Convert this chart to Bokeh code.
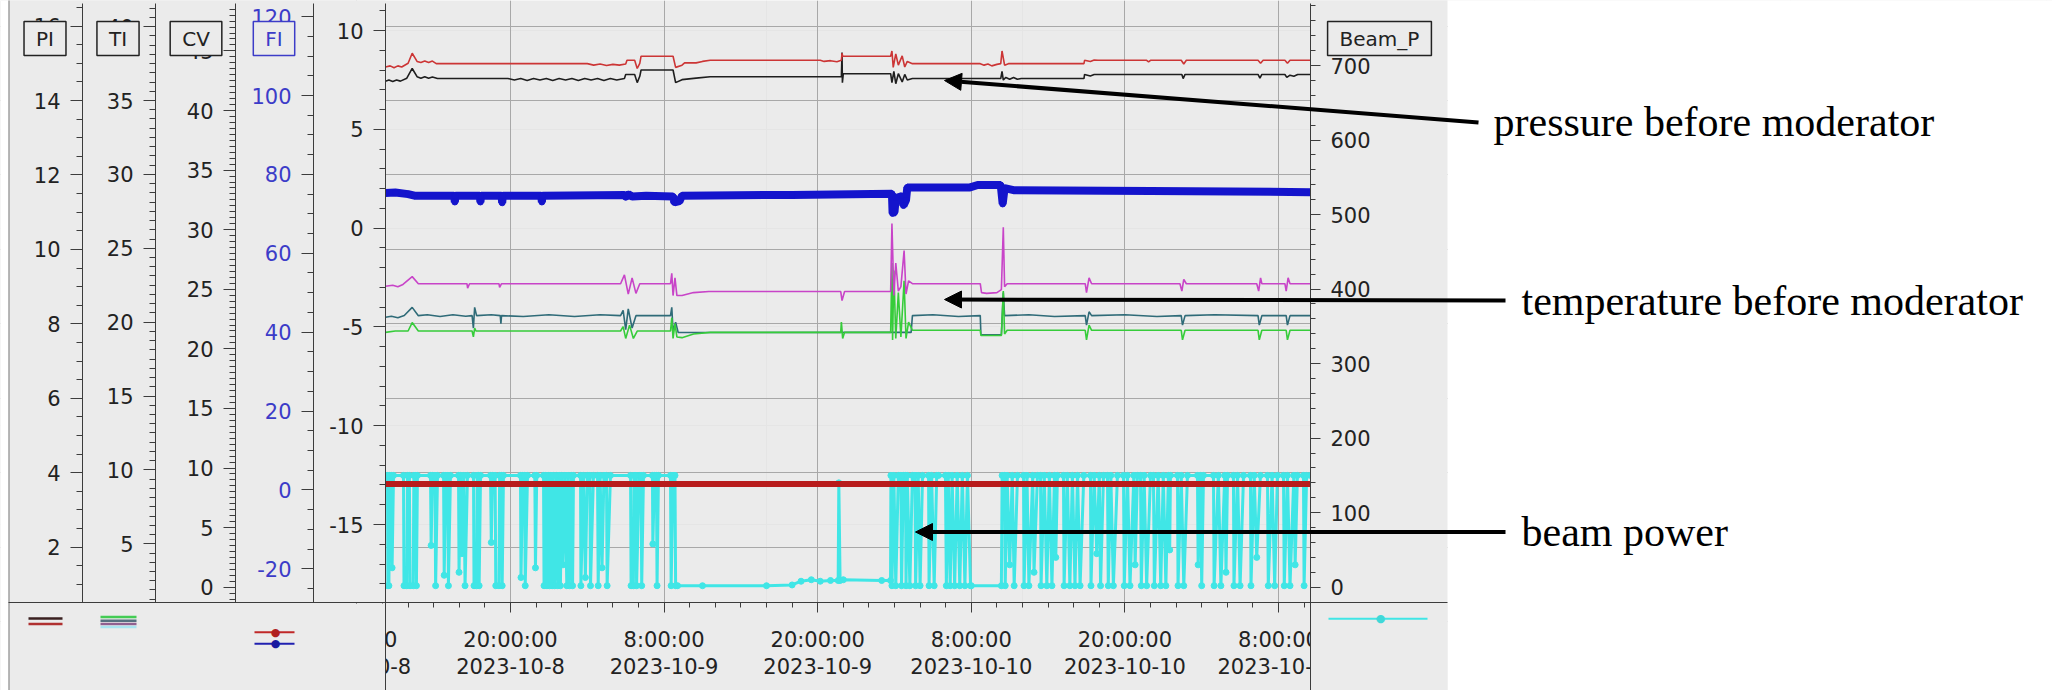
from bokeh.plotting import figure
from bokeh.models import (Range1d, LinearAxis, SingleIntervalTicker, FixedTicker, Grid,
                          Label, Arrow, NormalHead, BoxAnnotation, CustomJSTickFormatter)
from bokeh.embed import file_html
from bokeh.resources import INLINE

# ---------------- data (time in hours since 2023-10-08 00:00) ----------------
pi_red = [(10.23, 14.90), (10.6, 14.93), (10.9, 14.88), (11.2, 14.93), (11.5, 14.90), (12.0, 15.00),
          (12.32, 15.27), (12.7, 15.05), (13.0, 15.02), (13.3, 15.06), (13.6, 15.02), (13.9, 15.06),
          (14.2, 14.99), (26.0, 14.99), (26.5, 14.95), (27.0, 14.98), (27.5, 14.94), (28.0, 14.97),
          (28.5, 14.95), (29.0, 14.98), (29.1, 15.08), (29.7, 15.08), (29.9, 14.86), (30.1, 15.00),
          (30.2, 15.19), (32.7, 15.19), (32.9, 14.89), (33.4, 14.95), (33.6, 15.01), (34.5, 15.01),
          (35.0, 15.05), (35.6, 15.08), (44.2, 15.08), (44.5, 15.05), (45.0, 15.07), (45.5, 15.04),
          (45.85, 15.08), (45.9, 15.27), (45.95, 15.19), (49.7, 15.19), (49.8, 15.33), (49.9, 14.89),
          (50.1, 15.25), (50.3, 14.95), (50.6, 15.20), (50.8, 14.90), (51.0, 15.05), (51.4, 14.99),
          (56.7, 14.99), (57.0, 14.95), (57.3, 14.98), (57.6, 14.93), (58.0, 14.97), (58.3, 14.99),
          (58.4, 15.33), (58.6, 14.95), (58.9, 14.99), (64.8, 14.99), (64.85, 15.08), (65.3, 15.05),
          (65.6, 15.09), (65.9, 15.08), (69.7, 15.08), (69.85, 15.04), (70.0, 15.08), (72.4, 15.08),
          (72.6, 14.98), (72.8, 15.08), (78.4, 15.08), (78.6, 15.00), (78.8, 15.08), (80.5, 15.08),
          (80.7, 15.00), (80.9, 15.08), (82.5, 15.08)]

pi_black = [(10.23, 14.52), (10.5, 14.55), (10.8, 14.51), (11.1, 14.55), (11.4, 14.52), (11.9, 14.60),
            (12.32, 14.86), (12.7, 14.64), (13.0, 14.60), (13.3, 14.64), (13.6, 14.60), (13.9, 14.63),
            (14.3, 14.59), (19.8, 14.59), (20.3, 14.55), (20.8, 14.59), (21.3, 14.54), (21.8, 14.59),
            (22.3, 14.55), (22.8, 14.59), (23.3, 14.54), (23.8, 14.59), (24.3, 14.55), (24.8, 14.59),
            (25.3, 14.54), (25.8, 14.59), (26.3, 14.55), (26.8, 14.59), (27.3, 14.54), (27.8, 14.59),
            (28.3, 14.55), (28.9, 14.59), (29.0, 14.70), (29.7, 14.70), (29.9, 14.48), (30.1, 14.65),
            (30.2, 14.82), (32.7, 14.82), (32.9, 14.48), (33.4, 14.56), (34.5, 14.60), (35.6, 14.64),
            (45.85, 14.64), (45.9, 15.29), (45.93, 14.48), (46.0, 14.72), (49.7, 14.72), (49.8, 14.48),
            (49.95, 14.78), (50.1, 14.45), (50.3, 14.72), (50.6, 14.50), (50.8, 14.70), (51.0, 14.55),
            (51.4, 14.59), (58.3, 14.59), (58.4, 14.78), (58.5, 14.55), (58.7, 14.62), (59.0, 14.57),
            (59.3, 14.62), (59.6, 14.57), (59.9, 14.59), (64.8, 14.59), (64.85, 14.70), (65.3, 14.66),
            (65.6, 14.70), (72.45, 14.70), (72.55, 14.59), (72.7, 14.70), (78.4, 14.70), (78.55, 14.60),
            (78.7, 14.70), (80.5, 14.70), (80.65, 14.62), (80.9, 14.68), (81.2, 14.65), (81.5, 14.70),
            (82.5, 14.70)]

fi_blue = [(10.23, 75.3), (11.0, 75.4), (12.0, 75.0), (12.5, 74.6), (15.6, 74.6), (15.65, 73.0),
           (15.7, 74.6), (17.6, 74.6), (17.65, 73.0), (17.7, 74.6), (19.3, 74.6), (19.35, 72.8),
           (19.4, 74.6), (22.4, 74.6), (22.45, 73.0), (22.5, 74.6), (28.9, 74.8), (29.0, 74.2),
           (29.2, 75.0), (29.5, 74.4), (30.6, 74.6), (32.7, 74.4), (32.8, 72.9), (33.2, 73.2),
           (33.4, 74.6), (42.0, 74.8), (49.8, 75.1), (49.85, 70.1), (50.0, 70.5), (50.1, 74.0),
           (50.6, 74.5), (50.7, 72.1), (50.9, 73.5), (51.0, 76.7), (55.9, 76.7), (56.5, 77.3),
           (58.3, 77.3), (58.45, 72.5), (58.6, 76.5), (59.3, 76.0), (70.0, 75.8), (82.5, 75.5)]

fi_red = [(10.23, 1.5), (41.4, 1.5), (82.5, 1.5)]

ti_magenta = [(10.23, 22.43), (10.8, 22.50), (11.2, 22.40), (11.6, 22.55), (12.32, 23.08), (12.8, 22.60),
              (16.6, 22.60), (16.65, 22.30), (16.8, 22.60), (19.1, 22.60), (19.15, 22.35), (19.3, 22.60),
              (28.6, 22.60), (28.9, 23.20), (29.2, 21.90), (29.5, 23.00), (29.8, 21.95), (30.1, 22.60),
              (32.5, 22.60), (32.6, 23.30), (32.7, 21.80), (32.85, 23.00), (33.0, 21.80), (33.4, 21.80),
              (34.3, 22.00), (35.5, 22.07), (45.8, 22.07), (45.9, 21.46), (46.1, 22.07), (49.7, 22.07),
              (49.8, 26.67), (49.95, 21.80), (50.1, 24.00), (50.3, 22.10), (50.5, 22.40), (50.75, 24.84),
              (50.9, 21.90), (51.1, 22.80), (51.4, 22.60), (56.7, 22.60), (56.8, 22.00), (57.2, 21.95),
              (58.0, 22.00), (58.35, 22.20), (58.5, 26.42), (58.6, 22.40), (58.8, 22.60), (64.9, 22.60),
              (65.0, 22.00), (65.2, 23.00), (65.4, 22.60), (72.3, 22.60), (72.45, 22.10), (72.6, 22.90),
              (72.8, 22.60), (78.3, 22.60), (78.45, 22.10), (78.6, 23.00), (78.7, 22.60), (80.5, 22.60),
              (80.6, 22.10), (80.75, 23.00), (80.9, 22.60), (82.5, 22.60)]

ti_teal = [(10.23, 20.33), (10.7, 20.40), (11.2, 20.30), (11.7, 20.45), (12.32, 21.00), (12.8, 20.44),
           (13.5, 20.50), (14.5, 20.38), (15.5, 20.50), (16.5, 20.40), (17.0, 20.44), (17.1, 19.60),
           (17.2, 21.00), (17.35, 20.44), (18.5, 20.50), (19.2, 20.44), (19.25, 19.90), (19.3, 20.44),
           (21.0, 20.38), (23.0, 20.50), (25.0, 20.38), (27.0, 20.50), (28.6, 20.44), (28.8, 20.80),
           (29.0, 19.50), (29.2, 20.90), (29.5, 19.60), (29.8, 20.44), (32.5, 20.44), (32.6, 21.00),
           (32.7, 19.40), (32.9, 20.00), (33.1, 19.30), (49.7, 19.31), (51.3, 19.31), (51.4, 20.44),
           (53.0, 20.50), (55.0, 20.38), (56.7, 20.44), (56.75, 19.15), (58.35, 19.15), (58.5, 22.00),
           (58.6, 20.44), (60.5, 20.50), (62.5, 20.38), (64.9, 20.44), (65.0, 19.80), (65.2, 20.70),
           (65.4, 20.44), (68.0, 20.50), (70.5, 20.38), (72.4, 20.44), (72.5, 19.80), (72.7, 20.44),
           (75.0, 20.50), (78.4, 20.44), (78.5, 19.80), (78.7, 20.44), (80.6, 20.44), (80.7, 19.80),
           (80.9, 20.44), (82.5, 20.44)]

ti_green = [(10.23, 19.31), (11.0, 19.40), (12.0, 19.40), (12.32, 19.97), (12.8, 19.40), (17.0, 19.40),
            (17.1, 19.00), (17.2, 19.60), (17.3, 19.40), (28.6, 19.40), (28.8, 19.70), (29.0, 18.90),
            (29.3, 19.80), (29.6, 18.90), (29.9, 19.40), (32.5, 19.40), (32.6, 20.30), (32.7, 18.90),
            (32.85, 19.90), (33.0, 19.00), (33.4, 18.95), (34.3, 19.20), (35.6, 19.31), (45.8, 19.31),
            (45.85, 20.00), (45.95, 18.90), (46.1, 19.31), (49.7, 19.31), (49.8, 24.00), (49.85, 18.80),
            (49.95, 23.50), (50.1, 18.90), (50.3, 22.00), (50.5, 19.00), (50.75, 22.80), (50.9, 18.90),
            (51.1, 20.00), (51.4, 19.45), (56.7, 19.45), (56.75, 19.10), (58.35, 19.10), (58.5, 22.10),
            (58.6, 19.20), (58.8, 19.45), (64.9, 19.45), (65.0, 18.80), (65.2, 19.80), (65.4, 19.45),
            (72.4, 19.45), (72.5, 18.80), (72.7, 19.45), (78.4, 19.45), (78.5, 18.80), (78.7, 19.45),
            (80.6, 19.45), (80.7, 18.80), (80.9, 19.45), (82.5, 19.45)]

beam_power = [
    (10.23, 150), (10.39, 150), (10.42, 2), (10.5, 2), (10.55, 150), (10.7, 150), (10.75, 26), (10.86, 150),
    (11.64, 150), (11.68, 2), (11.9, 2), (11.95, 150), (12.1, 150), (12.15, 2), (12.4, 2), (12.45, 150),
    (12.6, 150), (12.65, 2), (12.73, 150), (13.75, 150), (13.8, 56), (13.9, 150), (14.1, 150), (14.15, 2),
    (14.3, 150), (14.77, 150), (14.82, 16), (14.95, 150), (15.1, 150), (15.15, 2), (15.31, 150),
    (15.94, 150), (15.98, 20), (16.1, 150), (16.2, 45), (16.35, 150), (16.45, 2), (16.64, 150),
    (17.11, 150), (17.15, 2), (17.35, 2), (17.4, 150), (17.5, 150), (17.55, 2), (17.66, 150),
    (18.44, 150), (18.5, 60), (18.6, 150), (18.8, 150), (18.85, 2), (19.1, 2), (19.15, 150), (19.3, 150),
    (19.35, 2), (19.45, 150), (20.78, 150), (20.82, 13), (20.95, 150), (21.1, 150), (21.15, 2),
    (21.33, 150), (21.9, 150), (21.95, 26), (22.05, 150), (22.58, 150), (22.62, 2), (22.75, 150),
    (22.85, 2), (22.95, 150), (23.05, 2), (23.15, 150), (23.25, 2), (23.35, 150), (23.45, 2), (23.6, 150),
    (23.7, 2), (23.8, 150), (23.9, 2), (24.0, 150), (24.1, 30), (24.25, 150), (24.4, 2), (24.5, 150),
    (24.6, 2), (24.75, 150), (24.85, 2), (24.92, 150), (25.47, 150), (25.5, 2), (25.7, 150), (25.85, 13),
    (26.0, 150), (26.2, 150), (26.25, 2), (26.48, 150), (26.8, 150), (26.85, 2), (27.0, 150), (27.15, 26),
    (27.3, 150), (27.5, 150), (27.55, 2), (27.81, 150), (29.38, 150), (29.42, 2), (29.6, 2), (29.65, 150),
    (29.8, 150), (29.85, 2), (30.05, 150), (30.2, 150), (30.25, 2), (30.39, 150), (31.09, 150),
    (31.12, 58), (31.25, 150), (31.4, 150), (31.45, 2), (31.56, 150), (32.5, 150), (32.55, 2),
    (32.7, 150), (32.85, 150), (32.9, 2), (33.05, 2), (35.0, 2), (40.0, 2), (42.0, 3), (42.7, 8),
    (43.5, 10), (44.2, 8), (45.0, 9), (45.6, 9), (45.65, 140), (45.75, 9), (46.0, 10), (49.0, 9),
    (49.69, 9), (49.72, 150), (49.8, 2), (49.95, 150), (50.1, 2), (50.3, 150), (50.5, 150), (50.55, 2),
    (50.7, 150), (50.86, 150), (50.9, 2), (51.0, 150), (51.2, 2), (51.4, 150), (51.6, 150), (51.65, 2),
    (51.85, 150), (52.0, 2), (52.19, 150), (52.66, 150), (52.7, 2), (52.9, 150), (53.1, 2), (53.3, 150),
    (53.44, 150), (53.98, 150), (54.05, 2), (54.2, 150), (54.35, 2), (54.5, 150), (54.7, 2), (54.9, 150),
    (55.1, 2), (55.3, 150), (55.5, 2), (55.7, 150), (55.94, 2), (56.0, 2), (58.35, 2), (58.41, 150),
    (58.6, 150), (58.65, 2), (58.8, 150), (59.0, 30), (59.2, 150), (59.35, 2), (59.61, 150), (60.08, 150),
    (60.12, 2), (60.35, 150), (60.5, 2), (60.8, 150), (60.9, 20), (61.17, 150), (61.41, 150), (61.45, 2),
    (61.7, 150), (61.9, 2), (62.1, 150), (62.3, 2), (62.5, 150), (62.6, 40), (62.73, 150), (63.2, 150),
    (63.25, 2), (63.5, 150), (63.7, 2), (63.9, 150), (64.1, 2), (64.3, 150), (64.5, 2), (64.79, 150),
    (65.31, 150), (65.35, 2), (65.6, 150), (65.8, 45), (66.0, 150), (66.1, 2), (66.33, 150), (66.64, 150),
    (66.7, 2), (66.9, 150), (67.1, 2), (67.42, 150), (67.89, 150), (67.95, 2), (68.2, 150), (68.4, 2),
    (68.7, 150), (68.8, 30), (68.98, 150), (69.22, 150), (69.28, 2), (69.5, 150), (69.7, 2), (70.0, 150),
    (70.23, 150), (70.3, 2), (70.6, 150), (70.8, 2), (71.0, 150), (71.2, 2), (71.4, 150), (71.5, 50),
    (71.56, 150), (72.11, 150), (72.15, 2), (72.4, 150), (72.6, 2), (72.89, 150), (73.67, 150),
    (73.72, 30), (73.9, 150), (74.0, 2), (74.14, 150), (74.92, 150), (74.97, 2), (75.3, 150), (75.5, 2),
    (75.8, 150), (75.9, 20), (76.02, 150), (76.48, 150), (76.52, 2), (76.8, 150), (77.0, 2), (77.27, 150),
    (77.81, 150), (77.85, 2), (78.1, 150), (78.3, 40), (78.59, 150), (79.14, 150), (79.2, 2), (79.5, 150),
    (79.7, 2), (79.92, 150), (80.39, 150), (80.45, 2), (80.7, 150), (80.9, 2), (81.2, 150), (81.3, 30),
    (81.48, 150), (81.95, 150), (82.0, 2), (82.2, 150), (82.5, 150)]

x_ticks = [8, 20, 32, 44, 56, 68, 80]
x_tick_labels = ["8:00:00\n2023-10-8", "20:00:00\n2023-10-8", "8:00:00\n2023-10-9", "20:00:00\n2023-10-9",
                 "8:00:00\n2023-10-10", "20:00:00\n2023-10-10", "8:00:00\n2023-10-11"]
x_minor_ticks = list(range(10, 84, 2))

# ---------------- layout constants (pixels of the trend window) ----------------
W, H = 2052, 690
BG = "#ebebeb"
FONT = "DejaVu Sans"
FS = "21px"
AX_COL = "#3c3c3c"
TXT = "#222222"
BLUE_TXT = "#3c3cc8"
PLOT_L, PLOT_R, PLOT_B, TOP = 385, 1310, 602, 3
PANEL_R = 1447


def lin(p1, v1, p2, v2):
    b = (v2 - v1) / (p2 - p1)
    return lambda px: v1 + (px - p1) * b


# value scales of each axis, anchored on two tick positions
f_main = lin(30, 10, 524, -15)
f_pi = lin(100, 14, 546.7, 2)
f_ti = lin(100, 35, 543.3, 5)
f_cv = lin(110, 40, 586.7, 0)
f_fi = lin(95, 100, 568.3, -20)
f_beam = lin(65, 700, 586.7, 0)
f_hour = lin(510, 20, 1278, 80)


def vr(f):
    return Range1d(f(H), f(0))


p = figure(width=W, height=H, x_range=Range1d(f_hour(0), f_hour(W)), y_range=vr(f_main),
           x_axis_location=None, y_axis_location=None, toolbar_location=None, output_backend="svg",
           min_border=0, title=None)
p.background_fill_color = BG
p.border_fill_color = BG
p.outline_line_color = None
p.extra_y_ranges = {"pi": vr(f_pi), "ti": vr(f_ti), "cv": vr(f_cv), "fi": vr(f_fi),
                    "beam": vr(f_beam), "py": Range1d(H, 0)}
p.extra_x_ranges = {"px": Range1d(0, W)}

plain_numbers = CustomJSTickFormatter(code="return String(Math.round(tick * 100) / 100)")


def style_axis(ax, label_color=TXT):
    ax.axis_line_color = AX_COL
    ax.major_tick_line_color = AX_COL
    ax.minor_tick_line_color = AX_COL
    ax.major_tick_out = 12
    ax.major_tick_in = 0
    ax.minor_tick_out = 6
    ax.minor_tick_in = 0
    ax.major_label_standoff = 10
    ax.major_label_text_font = FONT
    ax.major_label_text_font_size = FS
    ax.major_label_text_color = label_color


def yaxis(name, f, xloc, interval, nminor, side="left", color=TXT):
    ax = LinearAxis(y_range_name=name, x_range_name="px", fixed_location=xloc,
                    bounds=(f(PLOT_B), f(TOP)), formatter=plain_numbers,
                    ticker=SingleIntervalTicker(interval=interval, num_minor_ticks=nminor))
    style_axis(ax, color)
    p.add_layout(ax, side)
    return ax


def seg(x0, y0, x1, y1, color=AX_COL, width=1.0):
    p.add_layout(Arrow(end=None, x_start=x0, y_start=y0, x_end=x1, y_end=y1,
                       line_color=color, line_width=width, x_range_name="px", y_range_name="py"))


def box(l, r, t, b, color, level):
    p.add_layout(BoxAnnotation(left=l, right=r, top=t, bottom=b, x_range_name="px", y_range_name="py",
                               fill_color=color, fill_alpha=1.0, line_color=None, level=level))


def box_label(x, y, text, color):
    p.add_layout(Label(x=x, y=y, text=text, text_align="center", text_baseline="middle",
                       text_font=FONT, text_font_size="20px", text_color=color,
                       background_fill_color=BG, border_line_color=color, border_line_width=1.5,
                       padding=(12, 5), x_range_name="px", y_range_name="py"))


def dot(x, y, color):
    p.add_layout(Label(x=x, y=y, text="\u25CF", text_align="center", text_baseline="middle",
                       text_font=FONT, text_font_size="11px", text_color=color,
                       x_range_name="px", y_range_name="py"))


# grid of the trend window
x_ticker = FixedTicker(ticks=x_ticks, minor_ticks=x_minor_ticks)
grid_col = "#a8a8a8"
p.add_layout(Grid(dimension=0, ticker=x_ticker, grid_line_color=grid_col, grid_line_width=1))
p.add_layout(Grid(dimension=1, ticker=SingleIntervalTicker(interval=2), y_range_name="pi",
                  grid_line_color=grid_col, grid_line_width=1))

# panels around the trend window (hide the grid outside it)
box(0, PLOT_L, -5, H + 5, BG, "glyph")
box(PLOT_L - 1, PLOT_R + 1, PLOT_B, H + 5, BG, "glyph")
box(PLOT_R, PANEL_R, -5, H + 5, BG, "glyph")
box(PANEL_R, W + 5, -5, H + 5, "white", "glyph")
box(0, 8, -5, H + 5, "white", "glyph")


# series
def xy(pairs):
    return [a for a, _ in pairs], [b for _, b in pairs]


bt, bv = xy(beam_power)
p.line(bt, bv, y_range_name="beam", line_color="#40e6e6", line_width=3)
p.scatter(bt, bv, y_range_name="beam", size=6, color="#40e6e6")

t, v = xy(fi_red)
p.line(t, v, y_range_name="fi", line_color="#b81c1c", line_width=6)

for data, col in ((ti_teal, "#2f6b78"), (ti_green, "#36cc3a"), (ti_magenta, "#c844c8")):
    t, v = xy(data)
    p.line(t, v, y_range_name="ti", line_color=col, line_width=1.6)

t, v = xy(fi_blue)
p.line(t, v, y_range_name="fi", line_color="#1414cc", line_width=8)
p.scatter(t, v, y_range_name="fi", size=6, color="#1414cc")

for data, col in ((pi_black, "#1e1e1e"), (pi_red, "#cc3535")):
    t, v = xy(data)
    p.line(t, v, y_range_name="pi", line_color=col, line_width=1.6)

# axes
yaxis("pi", f_pi, 82, 2, 4)
yaxis("ti", f_ti, 155, 5, 8)
yaxis("cv", f_cv, 235, 5, 10)
yaxis("fi", f_fi, 313, 20, 4, color=BLUE_TXT)
yaxis("default", f_main, PLOT_L, 5, 5)
b_ax = yaxis("beam", f_beam, PLOT_R, 100, 5, side="right")
b_ax.major_tick_out = 10
b_ax.minor_tick_out = 5

x_ax = LinearAxis(y_range_name="py", fixed_location=PLOT_B, bounds=(8, f_hour(PLOT_R)), ticker=x_ticker,
                  major_label_overrides=dict(zip(x_ticks, x_tick_labels)))
style_axis(x_ax)
x_ax.major_tick_out = 10
x_ax.minor_tick_out = 5
x_ax.major_label_standoff = 15
x_ax.major_label_text_line_height = 1.15
p.add_layout(x_ax, "below")

# the x labels are cut at the edges of the trend window
box(300, PLOT_L - 0.5, PLOT_B + 1, H + 5, BG, "annotation")
box(PLOT_R + 0.5, PANEL_R, PLOT_B + 1, H + 5, BG, "annotation")

# frame lines
seg(8.5, -5, 8.5, H + 5, color="#7a7a7a")
seg(8, PLOT_B, PANEL_R, PLOT_B)
seg(PLOT_L, PLOT_B, PLOT_L, H + 5)
seg(PLOT_R, PLOT_B, PLOT_R, H + 5)

# tag boxes
box_label(44.5, 38, "PI", TXT)
box_label(117.5, 38, "TI", TXT)
box_label(195.5, 38, "CV", TXT)
box_label(273.5, 38, "FI", BLUE_TXT)
box_label(1379, 38, "Beam_P", TXT)

# legend samples under the axes
seg(28, 618, 62, 618, color="#3a2020", width=2.5)
seg(28, 623.5, 62, 623.5, color="#b03030", width=2.5)
seg(100, 616.5, 136, 616.5, color="#44cc55", width=2.5)
seg(100, 620.2, 136, 620.2, color="#557080", width=2.5)
seg(100, 623.6, 136, 623.6, color="#906090", width=2.5)
seg(100, 626.6, 136, 626.6, color="#a8e4f0", width=2.5)
seg(254, 631.7, 294, 631.7, color="#c02828", width=2)
seg(254, 643.3, 294, 643.3, color="#2020b0", width=2)
dot(275, 631.7, "#b02020")
dot(275, 643.3, "#1a1aa0")
seg(1328, 618.3, 1427, 618.3, color="#40e6e6", width=2)
dot(1380, 618.3, "#40d8d8")

# annotations
notes = [("pressure before moderator", 1493, 121, 1478, 122, 944, 80),
         ("temperature before moderator", 1521, 300, 1505, 300, 944, 299),
         ("beam power", 1521, 531, 1505, 531.5, 915, 531.5)]
for text, lx, ly, xs, ys, xe, ye in notes:
    p.add_layout(Arrow(end=NormalHead(size=17, fill_color="black", line_color="black", line_width=1),
                       x_start=xs, y_start=ys, x_end=xe, y_end=ye, line_color="black", line_width=4,
                       x_range_name="px", y_range_name="py"))
    p.add_layout(Label(x=lx, y=ly, text=text, text_align="left", text_baseline="middle",
                       text_font="Liberation Serif", text_font_size="42px", text_color="black",
                       x_range_name="px", y_range_name="py"))

open("out.html", "w").write(file_html(p, INLINE))
